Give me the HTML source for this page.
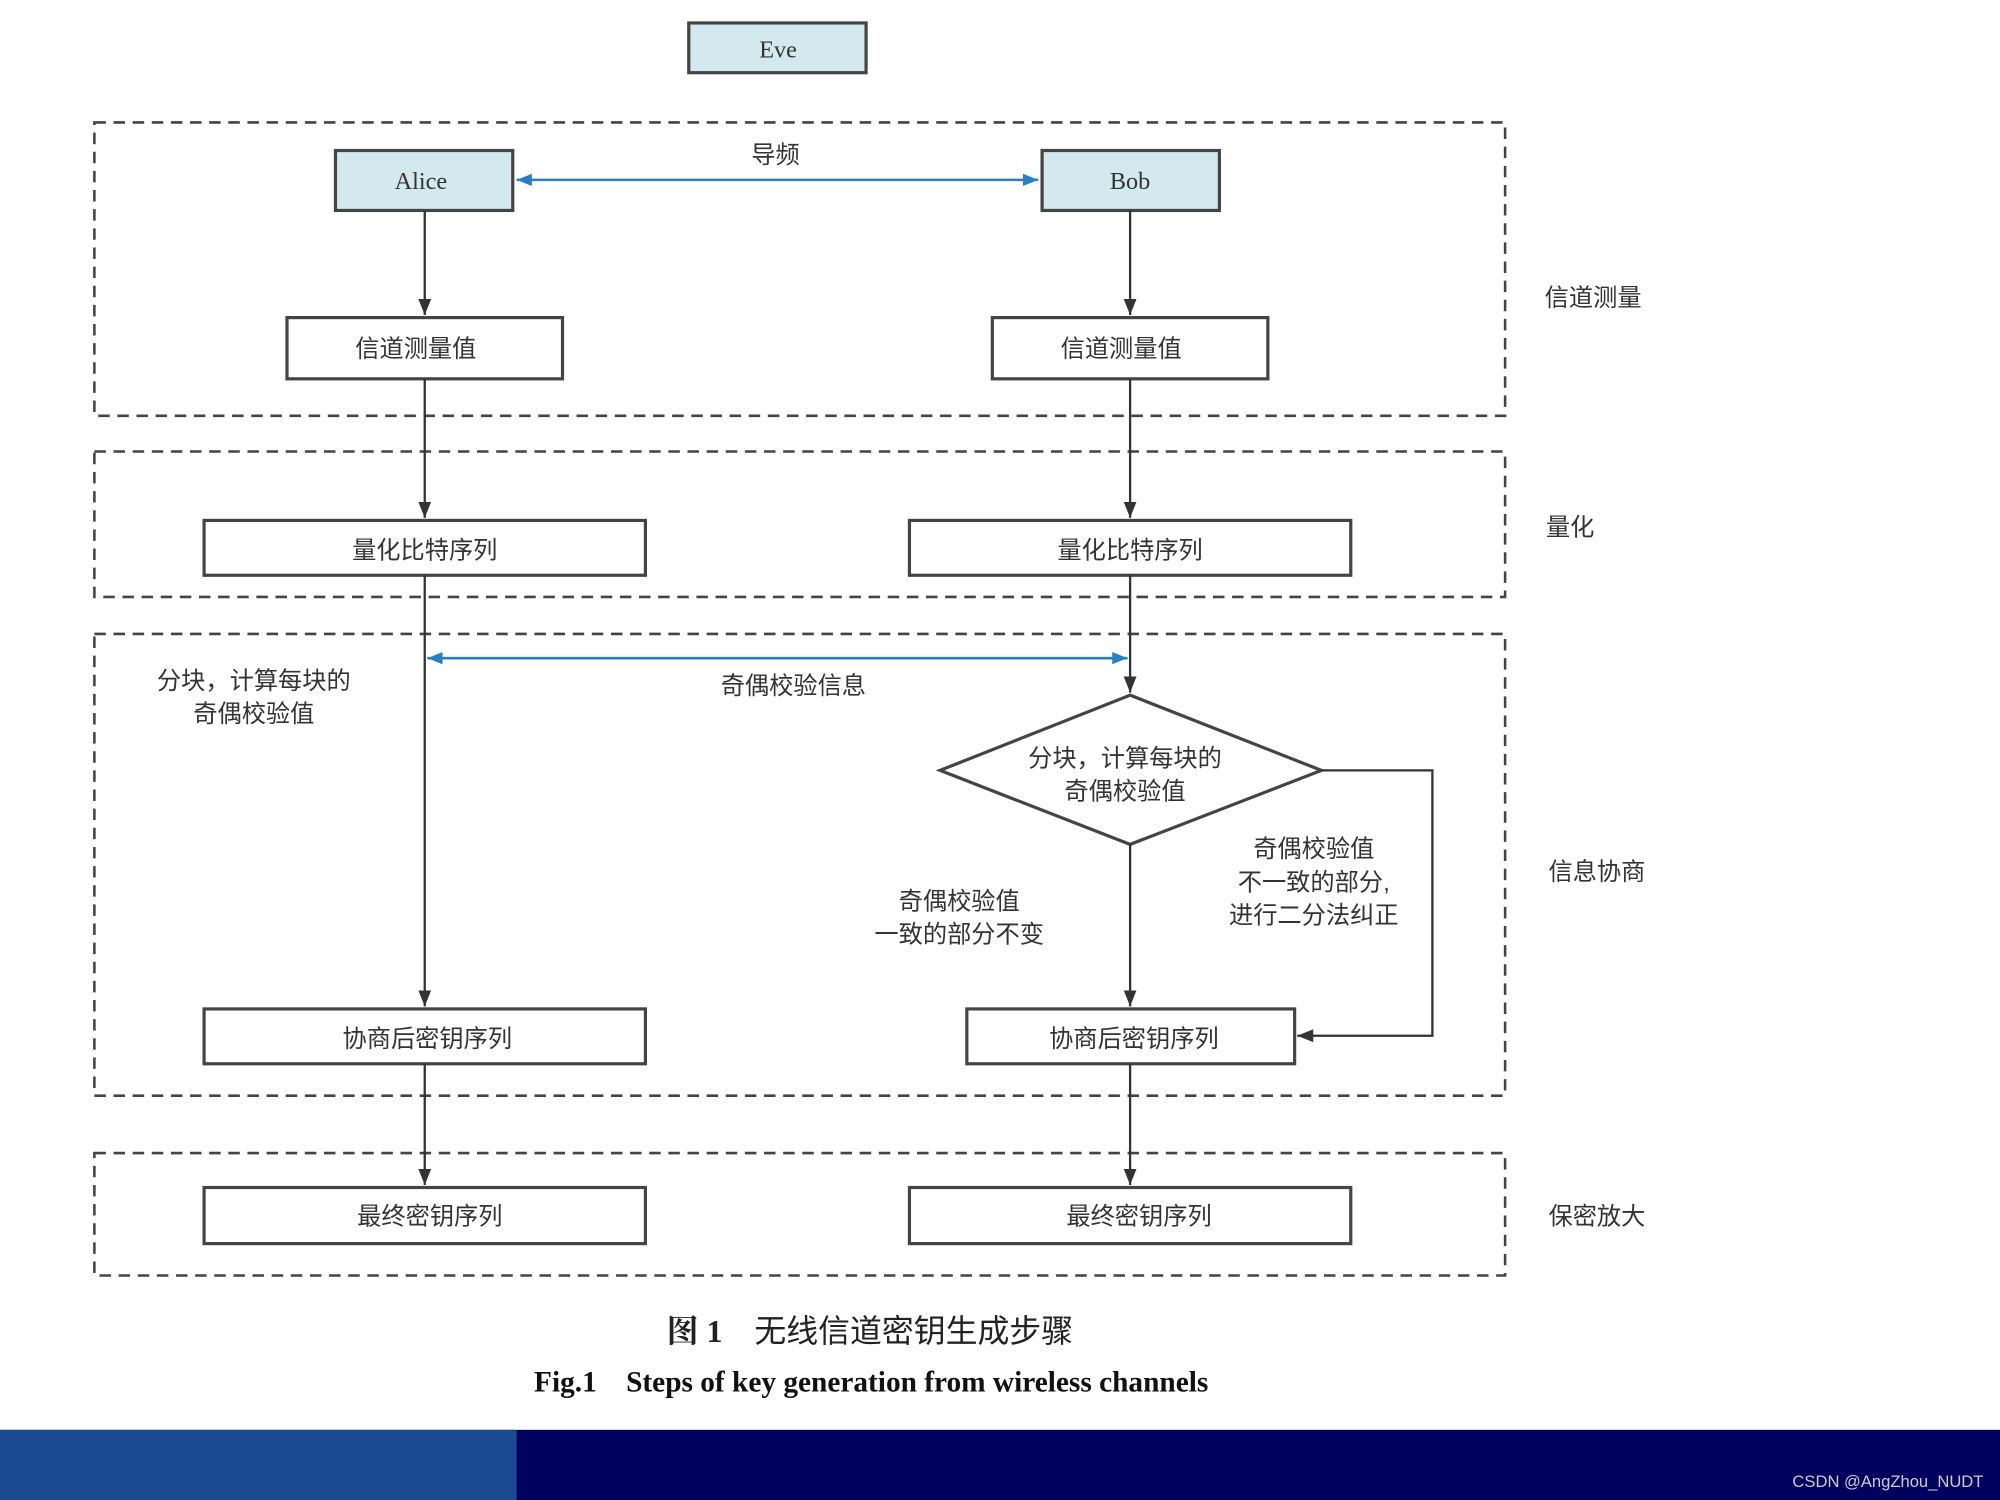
<!DOCTYPE html>
<html><head><meta charset="utf-8"><style>
html,body{margin:0;padding:0;background:#fff;}
svg{display:block;}
text{font-family:"Liberation Sans","Noto Sans CJK SC",sans-serif;fill:#333;}
.s{font-family:"Liberation Serif","Noto Serif CJK SC",serif;}
</style></head><body>
<svg width="2000" height="1500" viewBox="0 0 1568 1176" preserveAspectRatio="none" xmlns="http://www.w3.org/2000/svg">
<defs>
<marker id="a" viewBox="0 0 10 10" refX="10" refY="5" markerWidth="7" markerHeight="7" orient="auto-start-reverse"><path d="M0,1 L10,5 L0,9 Z" fill="#333"/></marker>
<marker id="b" viewBox="0 0 10 10" refX="10" refY="5" markerWidth="6" markerHeight="6" orient="auto-start-reverse"><path d="M0,1 L10,5 L0,9 Z" fill="#2a7fc4"/></marker>
</defs>
<g fill="none" stroke="#444" stroke-width="2" stroke-dasharray="9,6">
<rect x="74" y="96" width="1106" height="230"/>
<rect x="74" y="354" width="1106" height="114"/>
<rect x="74" y="497" width="1106" height="362"/>
<rect x="74" y="904" width="1106" height="96"/>
</g>
<g stroke="#444" stroke-width="2.5">
<rect x="540" y="18" width="139" height="39" fill="#d3e8ef"/>
<rect x="263" y="118" width="139" height="47" fill="#d3e8ef"/>
<rect x="817" y="118" width="139" height="47" fill="#d3e8ef"/>
<g fill="#fff">
<rect x="225" y="249" width="216" height="48"/>
<rect x="778" y="249" width="216" height="48"/>
<rect x="160" y="408" width="346" height="43"/>
<rect x="713" y="408" width="346" height="43"/>
<rect x="160" y="791" width="346" height="43"/>
<rect x="758" y="791" width="257" height="43"/>
<rect x="160" y="931" width="346" height="44"/>
<rect x="713" y="931" width="346" height="44"/>
<polygon points="886,545 1036,604 886,662 737,604"/>
</g>
</g>
<g stroke="#333" stroke-width="1.8" fill="none">
<line x1="333" y1="165" x2="333" y2="247" marker-end="url(#a)"/>
<line x1="886" y1="165" x2="886" y2="247" marker-end="url(#a)"/>
<line x1="333" y1="297" x2="333" y2="406" marker-end="url(#a)"/>
<line x1="886" y1="297" x2="886" y2="406" marker-end="url(#a)"/>
<line x1="333" y1="451" x2="333" y2="789" marker-end="url(#a)"/>
<line x1="886" y1="451" x2="886" y2="543" marker-end="url(#a)"/>
<line x1="886" y1="662" x2="886" y2="789" marker-end="url(#a)"/>
<polyline points="1036,604 1123,604 1123,812 1017,812" marker-end="url(#a)"/>
<line x1="333" y1="834" x2="333" y2="929" marker-end="url(#a)"/>
<line x1="886" y1="834" x2="886" y2="929" marker-end="url(#a)"/>
</g>
<g stroke="#2a7fc4" stroke-width="2">
<line x1="405" y1="141" x2="814" y2="141" marker-start="url(#b)" marker-end="url(#b)"/>
<line x1="335" y1="516" x2="884" y2="516" marker-start="url(#b)" marker-end="url(#b)"/>
</g>
<g font-size="19" text-anchor="middle">
<text class="s" x="610" y="45">Eve</text>
<text class="s" x="330" y="148">Alice</text>
<text class="s" x="886" y="148">Bob</text>
<text x="608" y="128">导频</text>
<text x="326" y="280">信道测量值</text>
<text x="879" y="280">信道测量值</text>
<text x="333" y="438">量化比特序列</text>
<text x="886" y="438">量化比特序列</text>
<text x="199" y="540">分块，计算每块的</text>
<text x="199" y="566">奇偶校验值</text>
<text x="622" y="544">奇偶校验信息</text>
<text x="882" y="601">分块，计算每块的</text>
<text x="882" y="627">奇偶校验值</text>
<text x="1030" y="672">奇偶校验值</text>
<text x="1030" y="698">不一致的部分,</text>
<text x="1030" y="724">进行二分法纠正</text>
<text x="752" y="713">奇偶校验值</text>
<text x="752" y="739">一致的部分不变</text>
<text x="335" y="821">协商后密钥序列</text>
<text x="889" y="821">协商后密钥序列</text>
<text x="337" y="960">最终密钥序列</text>
<text x="893" y="960">最终密钥序列</text>
<text x="1249" y="240">信道测量</text>
<text x="1231" y="420">量化</text>
<text x="1252" y="690">信息协商</text>
<text x="1252" y="960">保密放大</text>
</g>
<text x="682" y="1052" font-size="25" text-anchor="middle" fill="#222" style="fill:#222"><tspan class="s" font-weight="bold">图 1</tspan>　无线信道密钥生成步骤</text>
<text class="s" x="683" y="1091" font-size="23" font-weight="bold" text-anchor="middle" style="fill:#111">Fig.1　Steps of key generation from wireless channels</text>
<rect x="0" y="1121" width="1568" height="55" fill="#00005f"/>
<rect x="0" y="1121" width="405" height="55" fill="#1b4a90"/>
<text x="1555" y="1166" font-size="13" text-anchor="end" style="fill:#ccc">CSDN @AngZhou_NUDT</text>
</svg>
</body></html>
